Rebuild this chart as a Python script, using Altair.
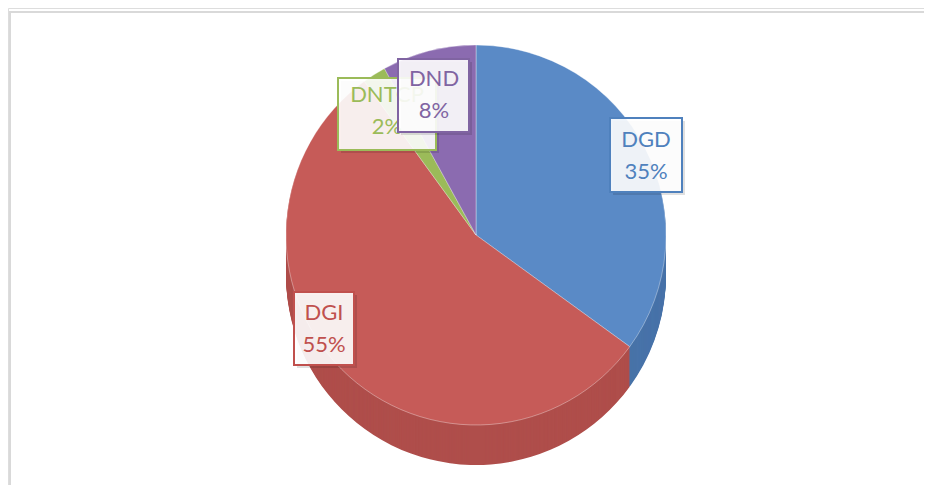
import altair as alt
import pandas as pd

# ---- data ----
categories = ["DGD", "DGI", "DNTCP", "DND"]
values = [35, 55, 2, 8]
order = [1, 2, 3, 4]

top_colors = ["#5A8AC6", "#C65B58", "#9BBB59", "#8B6BB0"]
side_colors = ["#4873A9", "#AF4E4B", "#809C47", "#6F5691"]
text_colors = ["#4F81BD", "#C0504D", "#9BBB59", "#8064A2"]

total = sum(values)
df = pd.DataFrame({"cat": categories, "value": values, "order": order})
df["label"] = [f"{c}\n{round(v / total * 100)}%" for c, v in zip(categories, values)]

W, H = 916, 477
CX, CY = 468, 227
R = 190
DEPTH = 40

def pie(colors, dy, stroke=None):
    mk = dict(radius=R, opacity=1)
    if stroke:
        mk.update(stroke=stroke, strokeWidth=1, strokeOpacity=0.35)
    return alt.Chart(df).mark_arc(**mk).encode(
        theta=alt.Theta("value:Q", stack=True),
        order=alt.Order("order:Q"),
        color=alt.Color("cat:N", scale=alt.Scale(domain=categories, range=colors), legend=None),
        x=alt.value(CX),
        y=alt.value(CY + dy),
    )

# side (extrusion)
side = alt.layer(*[pie(side_colors, d) for d in range(DEPTH, 0, -1)])
# top face
top = pie(top_colors, 0, stroke="#FFFFFF")

layers = []
# label boxes (chart pixel layout)
boxes = {
    "DGD": (602, 674, 110, 184, 638, 132),
    "DGI": (286, 346, 284, 357, 316, 305),
    "DNTCP": (330, 428, 70, 142, 379, 87),
    "DND": (390, 461, 51, 124, 426, 71),
}
for cat in ["DGD", "DGI", "DNTCP", "DND"]:
    x1, x2, y1, y2, tx, ty = boxes[cat]
    idx = categories.index(cat)
    sub = df[df["cat"] == cat]
    layers.append(
        alt.Chart(sub).mark_rect(fill="#000000", opacity=0.12).encode(
            x=alt.value(x1 + 3), x2=alt.value(x2 + 3), y=alt.value(y1 + 3), y2=alt.value(y2 + 3)
        )
    )
    layers.append(
        alt.Chart(sub).mark_rect(fill="#FFFFFF", fillOpacity=0.9, stroke=text_colors[idx], strokeWidth=2).encode(
            x=alt.value(x1), x2=alt.value(x2), y=alt.value(y1), y2=alt.value(y2)
        )
    )
    layers.append(
        alt.Chart(sub).mark_text(
            font="Lato", fontSize=22, lineBreak="\n", lineHeight=32,
            align="center", baseline="middle", color=text_colors[idx]
        ).encode(text="label:N", x=alt.value(tx), y=alt.value(ty))
    )

# frame lines (left and top)
frame = alt.Chart(pd.DataFrame({"a": [0]}))
layers.append(frame.mark_rule(color="#D9D9D9", strokeWidth=2).encode(
    x=alt.value(2), y=alt.value(3), y2=alt.value(H)))
layers.append(frame.mark_rule(color="#D9D9D9", strokeWidth=2).encode(
    x=alt.value(1), x2=alt.value(W), y=alt.value(4)))

chart = alt.layer(side, top, *layers).resolve_scale(color="independent").properties(
    width=W, height=H, autosize=alt.AutoSizeParams(type="none"), padding=0
).configure_view(stroke=None).configure(background="#FFFFFF")

chart.save("out.html", embed_options={"renderer": "svg", "actions": False})
